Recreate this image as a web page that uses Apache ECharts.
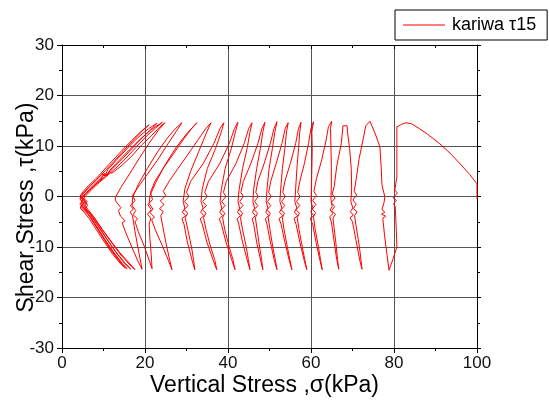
<!DOCTYPE html>
<html>
<head>
<meta charset="utf-8">
<script src="https://cdn.jsdelivr.net/npm/echarts@6/dist/echarts.min.js"></script>
<style>
    html, body { margin: 0; padding: 0; background: #fff; }
    #chart { width: 549px; height: 403px; }
</style>
</head>
<body>
<div id="chart"></div>
<script>
    // axis ticks
    const sigmaTicks = [0, 20, 40, 60, 80, 100];
    const tauTicks = [-30, -20, -10, 0, 10, 20, 30];
    const seriesName = 'kariwa \u03c415';

    // stress path [sigma, tau], one block per cycle
    const cycle01 = [[100.0,-0.5],[100.0,2.5],[98.2,4.4],[96.0,6.4],[93.5,8.6],[90.8,10.6],[88.0,12.4],[85.8,13.6],[84.2,14.4],[82.9,14.6],[81.8,14.3],[80.7,13.8],[80.7,9.5],[80.7,3.9],[80.2,1.3],[80.8,0.7],[79.8,-0.3],[80.6,-0.8],[79.9,-1.4],[80.3,-2.0],[80.5,-5.5],[80.7,-10.0],[79.8,-12.3],[78.8,-14.6],
        [78.3,-11.5],[77.7,-7.5],[77.3,-4.3],[78.0,-3.9],[77.0,-3.5],[77.8,-3.1],[77.1,-2.6],[77.6,-1.2],[77.8,-0.1],[77.1,2.3],[76.9,6.0],[76.6,9.8],[75.5,12.4]];
    const cycle02 = [[74.2,14.9],[73.2,14.0],[72.6,11.5],[71.6,7.5],[70.9,3.5],[70.4,1.0],[71.0,0.3],[70.1,-0.7],[70.9,-1.5],[70.2,-2.4],[71.1,-3.0],[70.5,-3.8],[70.8,-5.5],[71.4,-8.5],[71.9,-11.5],[72.3,-14.4],
        [71.8,-12.8],[70.8,-8.5],[70.0,-5.0],[69.4,-4.2],[70.2,-3.7],[69.5,-3.0],[70.1,-2.3],[69.6,-1.0],[69.8,1.5],[69.7,5.5],[69.3,9.5],[68.8,12.8]];
    const cycle03 = [[68.7,14.0],[67.7,14.0],[67.3,10.5],[66.2,6.0],[65.6,2.0],[65.1,0.5],[65.8,-0.3],[64.9,-1.2],[65.7,-2.0],[65.0,-2.8],[65.9,-3.5],[65.3,-4.3],[65.6,-6.5],[66.1,-10.0],[66.4,-12.5],[66.7,-14.4],
        [66.2,-12.5],[65.5,-8.5],[64.9,-5.0],[64.5,-4.0],[65.3,-3.4],[64.6,-2.7],[65.1,-2.0],[64.8,-0.5],[64.9,2.0],[64.9,6.0],[64.8,10.0],[64.7,13.5]];
    const cycle04 = [[65.0,14.9],[64.2,13.8],[63.6,11.0],[62.5,7.0],[61.3,3.5],[60.7,1.0],[61.3,0.2],[60.4,-0.8],[61.2,-1.6],[60.3,-2.5],[61.1,-3.2],[60.6,-4.0],[61.0,-6.5],[61.8,-10.0],[62.3,-12.5],[62.7,-14.5],
        [62.2,-12.8],[61.2,-9.0],[60.4,-5.5],[59.8,-4.3],[60.7,-3.8],[59.9,-3.0],[60.5,-2.3],[60.0,-1.0],[60.1,1.5],[60.2,5.5],[60.3,9.5],[60.2,12.8]];
    const cycle05 = [[60.6,14.8],[60.0,13.5],[59.4,10.5],[58.4,6.5],[57.3,3.0],[56.8,0.8],[57.4,0.0],[56.5,-1.0],[57.3,-1.8],[56.4,-2.6],[57.2,-3.3],[56.7,-4.2],[57.1,-6.5],[57.9,-10.0],[58.5,-12.5],[59.0,-14.5],
        [58.4,-12.8],[57.3,-9.0],[56.4,-5.5],[55.9,-4.4],[56.8,-3.8],[56.0,-3.1],[56.6,-2.3],[56.1,-1.0],[56.3,1.5],[56.6,5.5],[57.0,9.5],[57.3,12.8]];
    const cycle06 = [[57.6,14.7],[57.0,13.5],[56.3,10.5],[55.0,6.5],[53.7,3.0],[53.2,0.8],[53.8,0.0],[52.9,-1.0],[53.7,-1.8],[52.8,-2.6],[53.6,-3.3],[53.1,-4.2],[53.5,-6.5],[54.3,-10.0],[54.9,-12.5],[55.4,-14.5],
        [54.8,-12.8],[53.7,-9.0],[52.8,-5.5],[52.3,-4.4],[53.2,-3.8],[52.4,-3.1],[53.0,-2.3],[52.5,-1.0],[52.7,1.5],[53.1,5.5],[53.7,9.5],[54.1,12.8]];
    const cycle07 = [[54.5,14.6],[53.8,13.5],[53.0,10.5],[51.6,6.5],[50.3,3.0],[49.8,0.8],[50.4,0.0],[49.5,-1.0],[50.3,-1.8],[49.4,-2.6],[50.2,-3.3],[49.7,-4.2],[50.1,-6.5],[50.8,-10.0],[51.4,-12.5],[51.8,-14.5],
        [51.2,-12.8],[50.2,-9.0],[49.4,-5.5],[49.0,-4.4],[49.8,-3.8],[49.1,-3.1],[49.6,-2.3],[49.2,-1.0],[49.4,1.5],[49.9,5.5],[50.7,9.5],[51.3,12.8]];
    const cycle08 = [[51.8,14.8],[51.1,13.5],[50.2,10.5],[48.7,6.5],[47.2,3.0],[46.7,0.8],[47.3,0.0],[46.4,-1.0],[47.2,-1.8],[46.3,-2.6],[47.1,-3.3],[46.6,-4.2],[47.0,-6.5],[47.6,-10.0],[48.1,-12.5],[48.4,-14.5],
        [47.9,-12.8],[46.9,-9.0],[46.2,-5.5],[45.8,-4.4],[46.6,-3.8],[45.9,-3.1],[46.4,-2.3],[46.0,-1.0],[46.2,1.5],[46.9,5.5],[47.8,9.5],[48.4,12.8]];
    const cycle09 = [[48.9,14.7],[48.2,13.5],[47.2,10.5],[45.5,6.5],[43.7,3.0],[43.1,0.8],[43.7,0.0],[42.8,-1.0],[43.6,-1.8],[42.7,-2.6],[43.5,-3.3],[43.0,-4.2],[43.5,-6.5],[44.4,-10.0],[44.9,-12.5],[45.3,-14.5],
        [44.7,-12.8],[43.5,-9.0],[42.6,-5.5],[42.2,-4.4],[43.0,-3.8],[42.3,-3.1],[42.8,-2.3],[42.4,-1.0],[42.7,1.5],[43.5,5.5],[44.6,9.5],[45.3,12.8]];
    const cycle10 = [[45.8,14.6],[45.0,13.5],[43.9,10.5],[41.9,6.5],[39.6,3.0],[38.9,0.8],[39.5,0.0],[38.5,-1.0],[39.3,-1.8],[38.4,-2.6],[39.2,-3.3],[38.7,-4.2],[39.2,-6.5],[40.3,-10.0],[41.2,-12.5],[41.7,-14.5],
        [41.0,-12.8],[39.5,-9.0],[38.4,-5.5],[37.9,-4.4],[38.7,-3.8],[38.0,-3.1],[38.5,-2.3],[38.1,-1.0],[38.4,1.5],[39.3,5.5],[40.8,9.5],[41.8,12.8]];
    const cycle11 = [[42.4,14.7],[41.6,13.5],[40.3,10.5],[38.0,6.5],[35.3,3.0],[34.4,0.8],[35.0,0.0],[33.9,-1.0],[34.8,-1.8],[33.8,-2.6],[34.7,-3.3],[34.1,-4.2],[34.7,-6.5],[35.8,-10.0],[36.8,-12.5],[37.3,-14.5],
        [36.5,-12.8],[34.9,-9.0],[33.8,-5.5],[33.3,-4.4],[34.2,-3.8],[33.4,-3.1],[34.0,-2.3],[33.5,-1.0],[33.8,1.5],[35.0,5.5],[37.0,9.5],[38.4,12.8]];
    const cycle12 = [[39.0,14.6],[38.1,13.5],[36.6,10.5],[34.0,6.5],[31.0,3.0],[30.0,0.8],[30.6,0.0],[29.5,-1.0],[30.4,-1.8],[29.4,-2.6],[30.3,-3.3],[29.7,-4.2],[30.3,-6.5],[31.2,-10.0],[31.7,-12.5],[32.0,-14.5],
        [31.4,-12.8],[30.2,-9.0],[29.4,-5.5],[28.9,-4.4],[29.8,-3.8],[29.0,-3.1],[29.6,-2.3],[29.2,-1.0],[29.6,1.5],[31.0,5.0],[33.0,9.0],[34.8,12.6]];
    const cycle13 = [[35.9,14.6],[34.6,13.4],[32.6,11.0],[30.4,8.4],[28.0,5.6],[25.8,3.0],[24.4,1.0],[25.0,0.2],[23.7,-0.9],[24.6,-1.6],[23.5,-2.4],[24.4,-3.0],[23.8,-3.8],[24.3,-6.0],[25.2,-9.8],[25.9,-12.4],[26.5,-14.5],
        [25.6,-12.6],[24.2,-9.8],[22.6,-6.8],[21.6,-4.6],[22.3,-4.1],[21.2,-3.2],[21.9,-2.5],[21.0,-1.4],[21.2,0.2],[22.6,2.8],[24.8,6.2],[27.4,9.6],[30.0,12.4]];
    const cycle14 = [[32.5,14.6],[31.0,13.2],[29.0,11.0],[26.8,8.4],[24.4,5.6],[22.4,3.0],[21.3,0.8],[21.8,-0.6],[20.7,-1.6],[21.5,-2.6],[20.6,-3.5],[21.4,-4.3],[21.0,-5.5],[21.2,-8.5],[21.5,-11.5],[21.7,-14.3],
        [21.0,-12.6],[19.8,-9.8],[18.4,-7.0],[17.6,-5.0],[18.2,-4.4],[17.1,-3.6],[17.8,-2.8],[16.9,-1.8],[17.0,-0.2],[18.4,2.4],[20.6,5.6],[23.0,8.8],[25.4,11.6],[27.4,13.5]];
    const cycle15 = [[28.9,14.6],[27.6,13.0],[25.6,10.5],[23.0,7.2],[20.4,4.2],[18.3,1.8],[17.0,0.2],[17.6,-0.8],[16.5,-1.8],[17.2,-2.5],[16.4,-3.1],[17.0,-3.8],[17.6,-7.0],[18.5,-11.0],[19.3,-14.4],
        [18.3,-12.8],[16.8,-10.0],[15.3,-7.0],[14.5,-5.2],[15.2,-4.8],[14.1,-3.9],[13.6,-2.8],[14.2,-2.2],[13.0,-1.0],[12.8,-0.3],[14.2,1.8],[16.3,4.5],[18.8,7.8],[21.2,10.8],[23.3,13.2]];
    const cycle16 = [[24.8,14.6],[23.6,13.8],[21.5,12.0],[19.2,10.2],[16.8,8.0],[14.5,6.2],[12.0,4.6],[11.4,4.9],[10.6,3.9],[9.0,2.8],[7.2,1.4],[5.8,0.2],[5.0,-0.6],[5.9,-1.4],[5.2,-2.2],[6.4,-2.9],[7.8,-4.2],[9.8,-6.6],[12.0,-9.2],[14.2,-11.6],[16.2,-13.4],[17.6,-14.5],
        [16.0,-13.0],[13.8,-11.0],[11.6,-8.6],[9.4,-6.2],[7.6,-4.0],[6.3,-2.6],[5.4,-1.6],[6.1,-1.0],[5.0,-0.2],[5.8,0.6],[7.0,1.8],[8.8,3.2],[10.2,4.4],[10.8,4.0],[11.4,5.1],[13.6,7.0],[16.2,9.2],[18.8,11.3],[21.4,13.2]];
    const cycle17 = [[24.2,14.7],[22.6,13.6],[20.3,11.9],[17.8,9.7],[15.2,7.4],[12.8,5.5],[11.0,4.2],[10.2,4.6],[9.4,3.4],[7.6,2.0],[6.0,0.8],[4.8,-0.2],[5.6,-1.1],[4.7,-1.9],[5.8,-2.7],[7.0,-3.6],[8.8,-5.8],[10.8,-8.4],[13.0,-11.0],[15.2,-13.2],[16.6,-14.4],
        [15.0,-13.2],[12.8,-10.8],[10.6,-8.2],[8.6,-5.8],[6.8,-3.6],[5.6,-2.2],[4.6,-1.4],[5.4,-0.6],[4.4,0.1],[5.3,0.8],[6.6,2.0],[8.3,3.3],[9.6,4.4],[10.4,4.1],[11.0,5.3],[13.1,7.2],[15.6,9.4],[18.2,11.6],[20.8,13.4]];
    const cycle18 = [[22.9,14.5],[21.6,13.4],[19.4,11.7],[17.0,9.6],[14.6,7.5],[12.3,5.6],[10.4,4.0],[9.0,3.0],[7.2,1.7],[5.6,0.5],[4.4,-0.5],[5.3,-1.3],[4.5,-2.1],[5.6,-3.0],[6.8,-4.0],[8.4,-6.0],[10.4,-8.6],[12.6,-11.2],[14.6,-13.4],[15.7,-14.3],
        [14.4,-13.2],[12.3,-10.9],[10.2,-8.4],[8.2,-5.9],[6.5,-3.7],[5.3,-2.4],[4.3,-1.5],[5.1,-0.7],[4.3,0.0],[5.0,0.9],[6.3,2.1],[8.0,3.4],[9.4,4.6],[11.6,6.6],[14.2,8.9],[16.8,11.1],[19.2,13.0]];
    const cycle19 = [[21.0,14.2],[19.6,13.2],[17.4,11.3],[15.0,9.2],[12.6,7.0],[10.4,5.1],[8.4,3.4],[6.6,1.9],[5.2,0.6],[4.3,-0.4],[5.0,-1.4],[4.4,-2.3],[5.4,-3.2],[6.6,-4.4],[8.3,-6.6],[10.2,-9.0],[12.2,-11.4],[14.0,-13.2],[15.2,-14.2],
        [13.8,-12.8],[11.6,-10.4],[9.6,-7.8],[7.8,-5.4],[6.4,-3.6],[5.4,-2.4],[6.2,-1.8],[5.6,-0.8]];

    const stressPath = [].concat(cycle01, cycle02, cycle03, cycle04, cycle05, cycle06, cycle07, cycle08, cycle09, cycle10,
        cycle11, cycle12, cycle13, cycle14, cycle15, cycle16, cycle17, cycle18, cycle19);

    const FONT = '"Liberation Sans", Arial, sans-serif';
    const gridLine = { show: true, lineStyle: { color: '#555', width: 1 } };

    const chart = echarts.init(document.getElementById('chart'), null, { renderer: 'canvas' });
    chart.setOption({
        animation: false,
        backgroundColor: '#fff',
        grid: { left: 62, right: 72, top: 45, bottom: 55, containLabel: false, outerBoundsMode: 'none' },
        legend: {
            left: 395,
            top: 10,
            padding: [6, 11, 6, 8],
            backgroundColor: '#fff',
            borderColor: '#000',
            borderWidth: 1,
            borderRadius: 0,
            itemWidth: 42,
            itemHeight: 1,
            itemGap: 6,
            icon: 'rect',
            textStyle: { fontFamily: FONT, fontSize: 18, color: '#000', padding: [0, 0, 0, 2] },
            data: [seriesName]
        },
        xAxis: [{
            type: 'value',
            min: sigmaTicks[0],
            max: sigmaTicks[sigmaTicks.length - 1],
            interval: 20,
            name: 'Vertical Stress ,\u03c3(kPa)',
            nameLocation: 'middle',
            nameGap: 26,
            nameMoveOverlap: false,
            nameTextStyle: { fontFamily: FONT, fontSize: 23, color: '#000', padding: [0, 10, 0, 0] },
            axisLine: { onZero: false, lineStyle: { color: '#000', width: 1 } },
            axisTick: { show: true, length: 5, lineStyle: { color: '#000' } },
            minorTick: { show: true, splitNumber: 2, length: 3, lineStyle: { color: '#000' } },
            axisLabel: { fontFamily: FONT, fontSize: 17, color: '#111', margin: 7 },
            splitLine: gridLine
        }, {
            type: 'value',
            position: 'top',
            min: sigmaTicks[0],
            max: sigmaTicks[sigmaTicks.length - 1],
            interval: 20,
            axisLine: { onZero: false, lineStyle: { color: '#000', width: 1 } },
            axisTick: { show: true, inside: true, length: 4, lineStyle: { color: '#000' } },
            minorTick: { show: true, splitNumber: 2, length: 3, lineStyle: { color: '#000' } },
            axisLabel: { show: false },
            splitLine: { show: false }
        }],
        yAxis: [{
            type: 'value',
            min: tauTicks[0],
            max: tauTicks[tauTicks.length - 1],
            interval: 10,
            name: 'Shear Stress ,\u03c4(kPa)',
            nameLocation: 'middle',
            nameRotate: 90,
            nameGap: 24,
            nameMoveOverlap: false,
            nameTextStyle: { fontFamily: FONT, fontSize: 23, color: '#000', padding: [0, 22, 0, 0] },
            axisLine: { onZero: false, lineStyle: { color: '#000', width: 1 } },
            axisTick: { show: true, length: 5, lineStyle: { color: '#000' } },
            minorTick: { show: true, splitNumber: 2, length: 3, lineStyle: { color: '#000' } },
            axisLabel: { fontFamily: FONT, fontSize: 17, color: '#111', margin: 8 },
            splitLine: gridLine
        }, {
            type: 'value',
            position: 'right',
            min: tauTicks[0],
            max: tauTicks[tauTicks.length - 1],
            interval: 10,
            axisLine: { show: true, onZero: false, lineStyle: { color: '#000', width: 1 } },
            axisTick: { show: true, length: 4, lineStyle: { color: '#000' } },
            minorTick: { show: true, splitNumber: 2, length: 3, lineStyle: { color: '#000' } },
            axisLabel: { show: false },
            splitLine: { show: false }
        }],
        series: [{
            name: seriesName,
            type: 'line',
            xAxisIndex: 0,
            yAxisIndex: 0,
            data: stressPath,
            showSymbol: false,
            smooth: false,
            itemStyle: { color: '#ff0000' },
            lineStyle: { color: '#ff0000', width: 1 }
        }]
    });
</script>
</body>
</html>
